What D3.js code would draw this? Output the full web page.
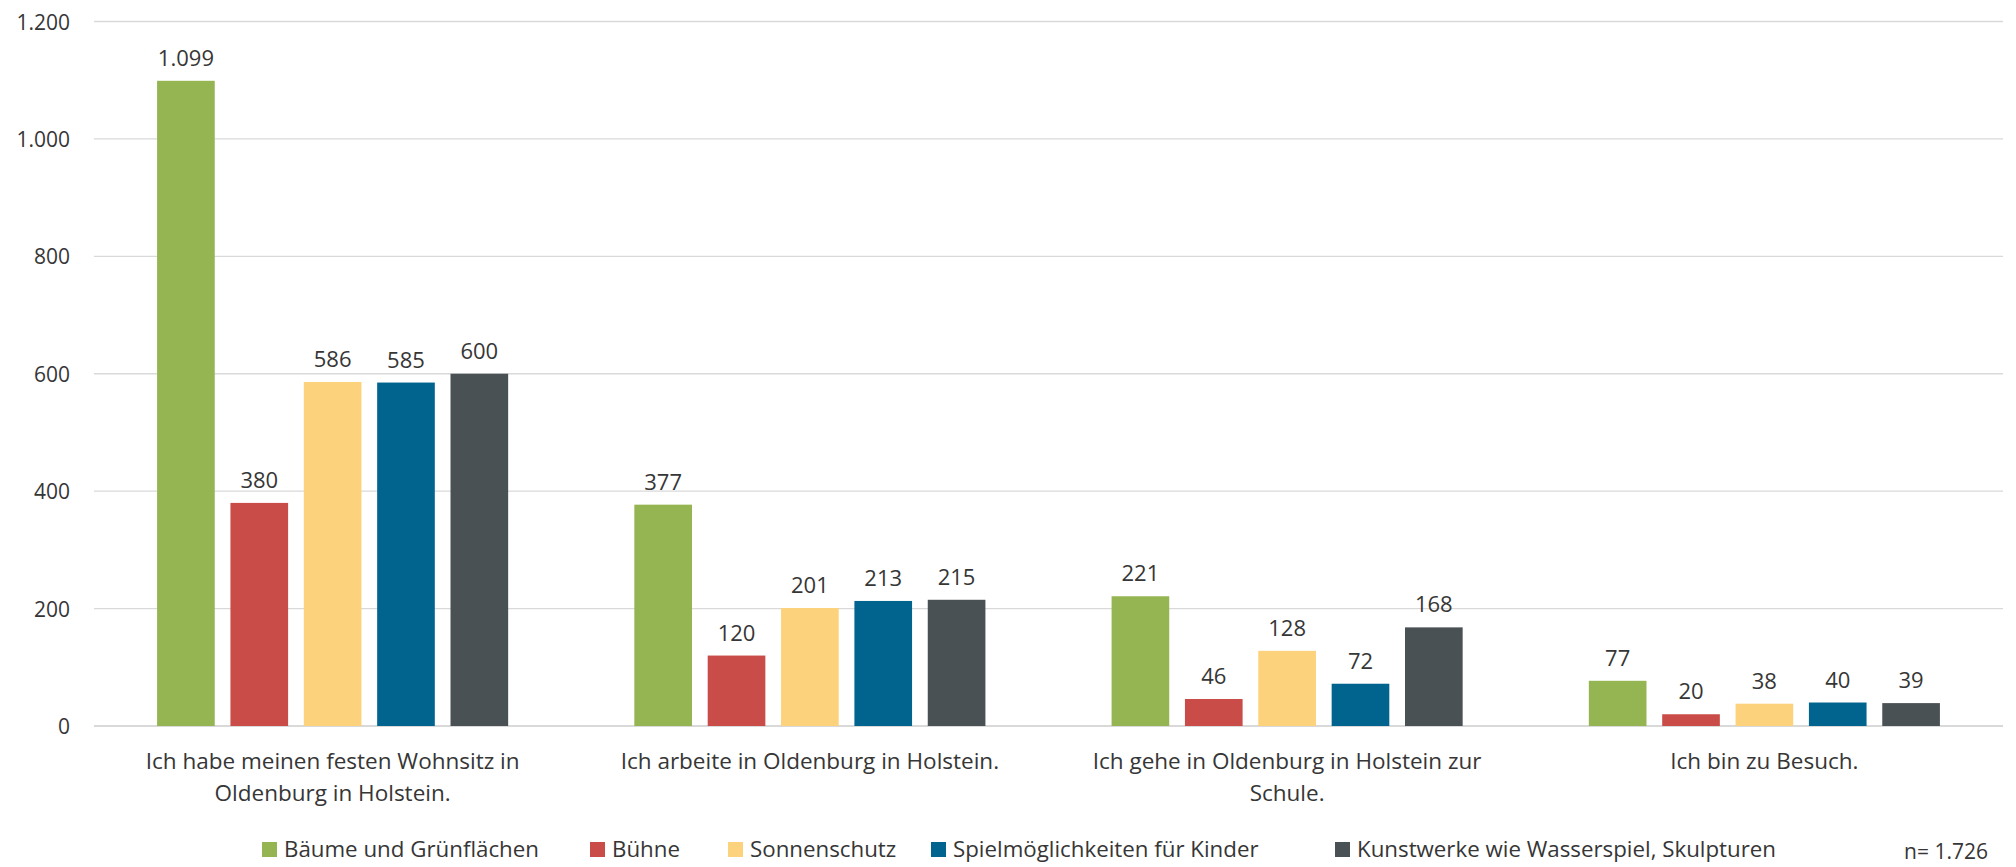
<!DOCTYPE html>
<html>
<head>
<meta charset="utf-8">
<script src="https://cdn.jsdelivr.net/npm/d3@7"></script>
<style>
  body { margin: 0; background: #fff; }
  svg text { font-family: "Open Sans", "Noto Sans", sans-serif; fill: #363636; }
</style>
</head>
<body>
<svg width="2016" height="867"></svg>
<script>
// categories (x groups), split into the lines shown under the axis
var categories = ["wohnsitz", "arbeite", "schule", "besuch"];
var categoryLines = [
  ["Ich habe meinen festen Wohnsitz in", "Oldenburg in Holstein."],
  ["Ich arbeite in Oldenburg in Holstein."],
  ["Ich gehe in Oldenburg in Holstein zur", "Schule."],
  ["Ich bin zu Besuch."]
];
var seriesNames = ["Bäume und Grünflächen", "Bühne", "Sonnenschutz", "Spielmöglichkeiten für Kinder", "Kunstwerke wie Wasserspiel, Skulpturen"];
var seriesColors = ["#94b551", "#c94c48", "#fdd27c", "#00648f", "#4a5154"];

// values per series, one entry per category
var baeume = [1099, 377, 221, 77];
var buehne = [380, 120, 46, 20];
var sonnenschutz = [586, 201, 128, 38];
var spiel = [585, 213, 72, 40];
var kunst = [600, 215, 168, 39];
var seriesValues = [baeume, buehne, sonnenschutz, spiel, kunst];

var yTicks = [0, 200, 400, 600, 800, 1000, 1200];
var footnote = "n= 1.726";

var svg = d3.select("svg");
var plotLeft = 94, plotRight = 2003, plotTop = 21.5, plotBottom = 726;
var fmt = function (v) { return d3.format(",")(v).replace(/,/g, "."); };

var y = d3.scaleLinear().domain([0, 1200]).range([plotBottom, plotTop]);
var x0 = d3.scaleBand().domain(categories).range([plotLeft, plotRight]).padding(0);
var x1 = d3.scaleBand().domain(d3.range(seriesNames.length))
    .range([0, x0.bandwidth()]).paddingInner(0.214).paddingOuter(0.86);

// gridlines + y labels
svg.append("g").selectAll("line").data(yTicks).enter().append("line")
    .attr("x1", plotLeft).attr("x2", plotRight)
    .attr("y1", function (d) { return y(d); }).attr("y2", function (d) { return y(d); })
    .attr("stroke", "#d9d9d9").attr("stroke-width", function (d) { return d === 0 ? 2 : 1.3; });
svg.append("g").selectAll("text").data(yTicks).enter().append("text")
    .attr("x", 70).attr("y", function (d) { return y(d) + 8; })
    .attr("text-anchor", "end").style("font-size", "21px")
    .text(fmt);

// bars
var rows = [];
categories.forEach(function (c, ci) {
  seriesValues.forEach(function (vals, si) {
    rows.push({ cat: c, s: si, v: vals[ci] });
  });
});
var bars = svg.append("g");
bars.selectAll("rect").data(rows).enter().append("rect")
    .attr("x", function (d) { return x0(d.cat) + x1(d.s); })
    .attr("y", function (d) { return y(d.v); })
    .attr("width", x1.bandwidth())
    .attr("height", function (d) { return plotBottom - y(d.v); })
    .attr("fill", function (d) { return seriesColors[d.s]; });
bars.selectAll("text").data(rows).enter().append("text")
    .attr("x", function (d) { return x0(d.cat) + x1(d.s) + x1.bandwidth() / 2; })
    .attr("y", function (d) { return y(d.v) - 15; })
    .attr("text-anchor", "middle").style("font-size", "22px")
    .text(function (d) { return fmt(d.v); });

// category labels
var cl = svg.append("g").selectAll("text").data(categories).enter().append("text")
    .attr("text-anchor", "middle").style("font-size", "22.5px")
    .attr("x", function (d) { return x0(d) + x0.bandwidth() / 2; })
    .attr("y", 769);
cl.selectAll("tspan").data(function (d, i) { return categoryLines[i]; }).enter().append("tspan")
    .attr("x", function () { return this.parentNode.getAttribute("x"); })
    .attr("dy", function (d, i) { return i === 0 ? 0 : 32; })
    .text(function (d) { return d; });

// legend
var legendX = [262, 590, 728, 931, 1335];
var lg = svg.append("g").selectAll("g").data(seriesNames).enter().append("g")
    .attr("transform", function (d, i) { return "translate(" + legendX[i] + ",849)"; });
lg.append("rect").attr("x", 0).attr("y", -7).attr("width", 15).attr("height", 15)
    .attr("fill", function (d, i) { return seriesColors[i]; });
lg.append("text").attr("x", 22).attr("y", 8).style("font-size", "22.3px").text(function (d) { return d; });

svg.append("text").attr("x", 1988).attr("y", 859).attr("text-anchor", "end")
    .style("font-size", "21px").text(footnote);
</script>
</body>
</html>
